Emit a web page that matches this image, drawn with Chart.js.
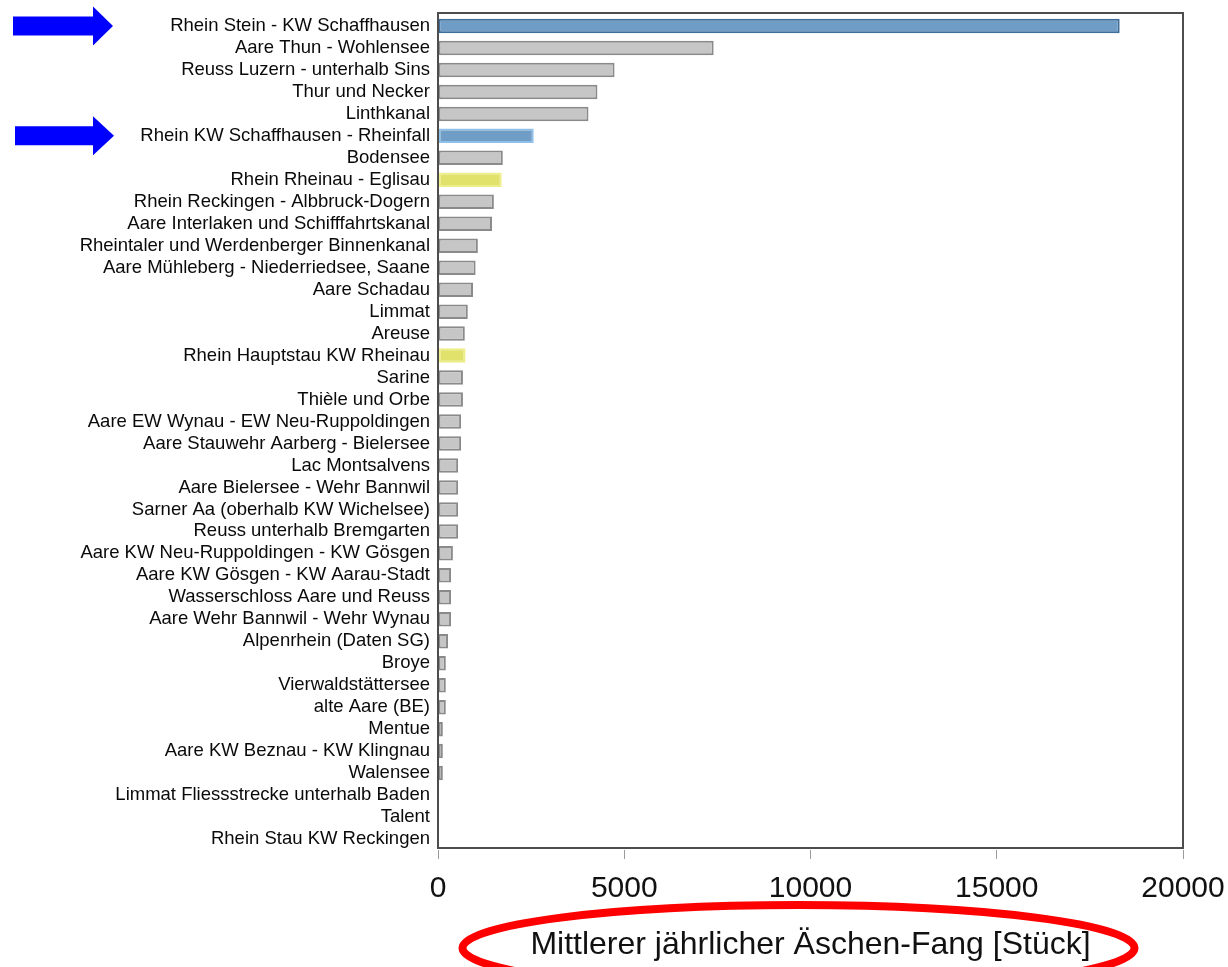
<!DOCTYPE html>
<html>
<head>
<meta charset="utf-8">
<script src="https://cdn.jsdelivr.net/npm/chart.js@4.4.1/dist/chart.umd.min.js"></script>
<style>
  html, body { margin: 0; padding: 0; background: #ffffff; }
  #c { display: block; }
</style>
</head>
<body>
<canvas id="c" width="1228" height="967"></canvas>
<script>
// ---- Data ----
const categories = [
  "Rhein Stein - KW Schaffhausen",
  "Aare Thun - Wohlensee",
  "Reuss Luzern - unterhalb Sins",
  "Thur und Necker",
  "Linthkanal",
  "Rhein KW Schaffhausen - Rheinfall",
  "Bodensee",
  "Rhein Rheinau - Eglisau",
  "Rhein Reckingen - Albbruck-Dogern",
  "Aare Interlaken und Schifffahrtskanal",
  "Rheintaler und Werdenberger Binnenkanal",
  "Aare Mühleberg - Niederriedsee, Saane",
  "Aare Schadau",
  "Limmat",
  "Areuse",
  "Rhein Hauptstau KW Rheinau",
  "Sarine",
  "Thièle und Orbe",
  "Aare EW Wynau - EW Neu-Ruppoldingen",
  "Aare Stauwehr Aarberg - Bielersee",
  "Lac Montsalvens",
  "Aare Bielersee - Wehr Bannwil",
  "Sarner Aa (oberhalb KW Wichelsee)",
  "Reuss unterhalb Bremgarten",
  "Aare KW Neu-Ruppoldingen - KW Gösgen",
  "Aare KW Gösgen - KW Aarau-Stadt",
  "Wasserschloss Aare und Reuss",
  "Aare Wehr Bannwil - Wehr Wynau",
  "Alpenrhein (Daten SG)",
  "Broye",
  "Vierwaldstättersee",
  "alte Aare (BE)",
  "Mentue",
  "Aare KW Beznau - KW Klingnau",
  "Walensee",
  "Limmat Fliessstrecke unterhalb Baden",
  "Talent",
  "Rhein Stau KW Reckingen"
];

const catchValues = [
  18300, 7400, 4740, 4280, 4040, 2570, 1740, 1710, 1500, 1450,
  1070, 1010, 940, 800, 720, 740, 670, 670, 620, 620,
  540, 540, 540, 540, 400, 350, 350, 350, 270, 210,
  210, 210, 130, 130, 130, 15, 10, 5
];

// highlight group per category: "blue", "yellow" or "gray"
const highlight = [
  "blue", "gray", "gray", "gray", "gray", "blue", "gray", "yellow", "gray", "gray",
  "gray", "gray", "gray", "gray", "gray", "yellow", "gray", "gray", "gray", "gray",
  "gray", "gray", "gray", "gray", "gray", "gray", "gray", "gray", "gray", "gray",
  "gray", "gray", "gray", "gray", "gray", "gray", "gray", "gray"
];

const arrowRows = [0, 5];

const xTicks = [0, 5000, 10000, 15000, 20000];
const xTitle = "Mittlerer jährlicher Äschen-Fang [Stück]";

// ---- Styles ----
const fillColors = { blue: "#6f9dc6", yellow: "#e1e26b", gray: "#c6c6c6" };
const borderColors = { blue: "#3e6d98", yellow: "#eeee88", gray: "#8a8a8a" };
const blueBorderSecond = "#8ec0ea";

const bg = highlight.map(h => fillColors[h]);
const bc = highlight.map((h, i) => (i === 5 ? blueBorderSecond : borderColors[h]));

const framePlugin = {
  id: "frame",
  afterDatasetsDraw(chart) {
    const { ctx, chartArea: a } = chart;
    ctx.save();
    ctx.strokeStyle = "#4d4d4d";
    ctx.lineWidth = 2;
    ctx.strokeRect(a.left, a.top - 2, a.right - a.left, a.bottom - a.top);
    ctx.restore();
  }
};

const annotationPlugin = {
  id: "annot",
  afterDraw(chart) {
    const { ctx, chartArea: a } = chart;
    const yScale = chart.scales.y;
    ctx.save();
    // blue arrows
    ctx.fillStyle = "#0000ff";
    arrowRows.forEach((r, k) => {
      const cy = yScale.getPixelForValue(r);
      const x0 = 13 + k * 2, xs = 93, xt = 113 + k;
      ctx.beginPath();
      ctx.moveTo(x0, cy - 9.5);
      ctx.lineTo(xs, cy - 9.5);
      ctx.lineTo(xs, cy - 19.5);
      ctx.lineTo(xt, cy);
      ctx.lineTo(xs, cy + 19.5);
      ctx.lineTo(xs, cy + 9.5);
      ctx.lineTo(x0, cy + 9.5);
      ctx.closePath();
      ctx.fill();
    });
    // red ellipse around the axis title
    const cx = (a.left + a.right) / 2 - 12;
    ctx.strokeStyle = "#ff0000";
    ctx.lineWidth = 8;
    ctx.beginPath();
    ctx.ellipse(cx, chart.height - 19, 336, 43, 0, 0, Math.PI * 2);
    ctx.stroke();
    ctx.restore();
  }
};

new Chart(document.getElementById("c"), {
  type: "bar",
  data: {
    labels: categories,
    datasets: [{
      data: catchValues,
      backgroundColor: bg,
      borderColor: bc,
      borderWidth: 2,
      borderSkipped: false,
      barPercentage: 0.66,
      categoryPercentage: 1.0
    }]
  },
  options: {
    indexAxis: "y",
    responsive: false,
    animation: false,
    devicePixelRatio: 1,
    layout: { padding: { top: 15, right: 45, bottom: 0, left: 0 } },
    plugins: { legend: { display: false }, tooltip: { enabled: false } },
    scales: {
      x: {
        type: "linear",
        min: xTicks[0],
        max: xTicks[xTicks.length - 1],
        afterBuildTicks(s) { s.ticks = xTicks.map(v => ({ value: v })); },
        afterFit(s) { s.height = 117; s.paddingLeft = 0; s.paddingRight = 0; },
        ticks: {
          font: { family: "'Liberation Sans', Arial, sans-serif", size: 30 },
          color: "#111111",
          padding: 12,
          maxRotation: 0,
          callback: v => String(v)
        },
        grid: { drawOnChartArea: false, drawTicks: true, tickLength: 9, color: "#9a9a9a", lineWidth: 1 },
        border: { display: false },
        title: {
          display: true,
          text: xTitle,
          font: { family: "'Liberation Sans', Arial, sans-serif", size: 32 },
          color: "#111111",
          padding: { top: 0, bottom: 3 }
        }
      },
      y: {
        afterFit(s) { s.width = 438; s.paddingTop = 0; s.paddingBottom = 0; },
        ticks: {
          font: { family: "'Liberation Sans', Arial, sans-serif", size: 18.5 },
          color: "#0a0a0a",
          padding: 8,
          labelOffset: 0,
          autoSkip: false
        },
        grid: { display: false, drawTicks: false },
        border: { display: false }
      }
    }
  },
  plugins: [framePlugin, annotationPlugin]
});
</script>
</body>
</html>
